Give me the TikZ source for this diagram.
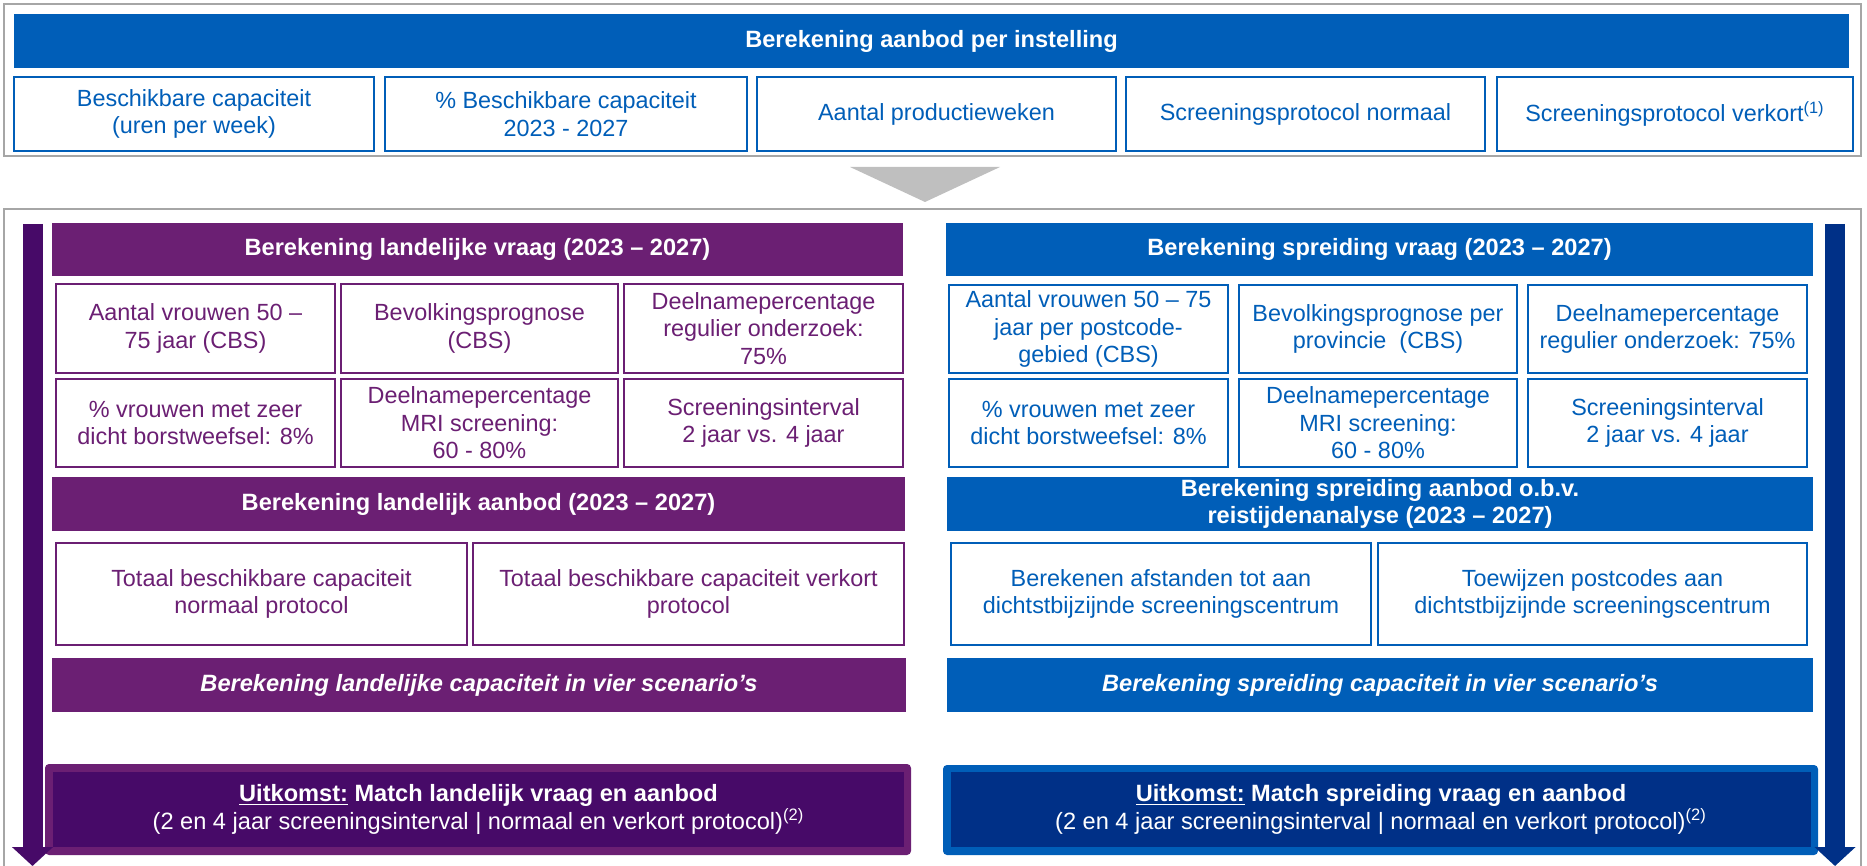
\documentclass[tikz,border=0pt]{standalone}
\usepackage{fontspec}
\setmainfont{Liberation Sans}
\usetikzlibrary{arrows.meta}

\definecolor{nzblue}{RGB}{0,94,184}
\definecolor{nzpurple}{RGB}{107,31,115}
\definecolor{nzdpurple}{RGB}{71,10,104}
\definecolor{nzdblue}{RGB}{0,48,135}
\definecolor{nzgray}{RGB}{166,166,166}
\definecolor{nzlgray}{RGB}{191,191,191}

\tikzset{
  every picture/.style={x=0.5pt,y=-0.5pt},
  span/.style n args={4}{at={({(#1+#3)/2},{(#2+#4)/2})},
    minimum width={(#3-#1)*0.5pt}, minimum height={(#4-#2)*0.5pt}},
  txt/.style={inner sep=0pt, outer sep=0pt, align=center, font=\fontsize{11.7}{13.8}\selectfont},
  bar/.style={txt, fill=#1, text=white, font=\bfseries\fontsize{11.8}{13.8}\selectfont},
  ibar/.style={bar=#1, font=\bfseries\itshape\fontsize{11.8}{13.8}\selectfont},
  cell/.style={txt, draw=#1, text=#1, fill=white, line width=1pt},
  flow/.style={line width=10pt, -{Triangle[width=20pt,length=9.5pt]}},
}

\begin{document}
\begin{tikzpicture}
  \useasboundingbox (0,0) rectangle (1867,866);

  % top frame
  \draw[nzgray, line width=1pt] (4,4) rectangle (1861,156);
  \node[bar=nzblue, span={14}{14}{1849}{68}] (aanbod) {Berekening aanbod per instelling};
  \node[cell=nzblue, span={14}{77}{374}{151}] (capac) {Beschikbare capaciteit\\(uren per week)};
  \node[cell=nzblue, span={385}{77}{747}{151}] (pcapac) {\% Beschikbare capaciteit\\2023 - 2027};
  \node[cell=nzblue, span={757}{77}{1116}{151}] (weken) {Aantal productieweken};
  \node[cell=nzblue, span={1126}{77}{1485}{151}] (protn) {Screeningsprotocol normaal};
  \node[cell=nzblue, span={1497}{77}{1853}{151}] (protv) {Screeningsprotocol verkort\textsuperscript{(1)}};

  % triangle
  \fill[nzlgray] (850,167) -- (1000,167) -- (925,202) -- cycle;

  % bottom frame
  \draw[nzgray, line width=1pt] (4,872) -- (4,209) -- (1861,209) -- (1861,872);

  % left column
  \node[bar=nzpurple, span={52}{223}{903}{276}] (lvraag) {Berekening landelijke vraag (2023 – 2027)};
  \node[cell=nzpurple, span={56}{284}{335}{373}] (lvrouw) {Aantal vrouwen 50 –\\75 jaar (CBS)};
  \node[cell=nzpurple, span={341}{284}{618}{373}] (lbevolk) {Bevolkingsprognose\\(CBS)};
  \node[cell=nzpurple, span={624}{284}{903}{373}] (ldeelreg) {Deelnamepercentage\\regulier onderzoek:\\75\%};
  \node[cell=nzpurple, span={56}{379}{335}{467}] (ldicht) {\% vrouwen met zeer\\dicht borstweefsel: 8\%};
  \node[cell=nzpurple, span={341}{379}{618}{467}] (ldeelmri) {Deelnamepercentage\\MRI screening:\\60 - 80\%};
  \node[cell=nzpurple, span={624}{379}{903}{467}] (linterval) {Screeningsinterval\\2 jaar vs. 4 jaar};
  \node[bar=nzpurple, span={52}{477}{905}{531}] (laanbod) {Berekening landelijk aanbod (2023 – 2027)};
  \node[cell=nzpurple, span={56}{543}{467}{645}] (ltotn) {Totaal beschikbare capaciteit\\normaal protocol};
  \node[cell=nzpurple, span={473}{543}{904}{645}] (ltotv) {Totaal beschikbare capaciteit verkort\\protocol};
  \node[ibar=nzpurple, span={52}{658}{906}{712}] (lcap) {Berekening landelijke capaciteit in vier scenario’s};
  \node[fill=nzpurple, rounded corners=2pt, inner sep=0pt, span={45}{764}{911}{855}] (luitframe) {};
  \node[bar=nzdpurple, span={53}{772}{904}{847}] (luit)
    {\underline{Uitkomst:} Match landelijk vraag en aanbod\\
     {\mdseries (2 en 4 jaar screeningsinterval | normaal en verkort protocol)\textsuperscript{(2)}}};

  % right column
  \node[bar=nzblue, span={946}{223}{1813}{276}] (svraag) {Berekening spreiding vraag (2023 – 2027)};
  \node[cell=nzblue, span={949}{285}{1228}{373}] (svrouw) {Aantal vrouwen 50 – 75\\jaar per postcode-\\gebied (CBS)};
  \node[cell=nzblue, span={1239}{285}{1517}{373}] (sbevolk) {Bevolkingsprognose per\\provincie~ (CBS)};
  \node[cell=nzblue, span={1528}{285}{1807}{373}] (sdeelreg) {Deelnamepercentage\\regulier onderzoek: 75\%};
  \node[cell=nzblue, span={949}{379}{1228}{467}] (sdicht) {\% vrouwen met zeer\\dicht borstweefsel: 8\%};
  \node[cell=nzblue, span={1239}{379}{1517}{467}] (sdeelmri) {Deelnamepercentage\\MRI screening:\\60 - 80\%};
  \node[cell=nzblue, span={1528}{379}{1807}{467}] (sinterval) {Screeningsinterval\\2 jaar vs. 4 jaar};
  \node[bar=nzblue, span={947}{477}{1813}{531}] (saanbod) {Berekening spreiding aanbod o.b.v.\\reistijdenanalyse (2023 – 2027)};
  \node[cell=nzblue, span={951}{543}{1371}{645}] (safst) {Berekenen afstanden tot aan\\dichtstbijzijnde screeningscentrum};
  \node[cell=nzblue, span={1378}{543}{1807}{645}] (spost) {Toewijzen postcodes aan\\dichtstbijzijnde screeningscentrum};
  \node[ibar=nzblue, span={947}{658}{1813}{712}] (scap) {Berekening spreiding capaciteit in vier scenario’s};
  \node[fill=nzblue, rounded corners=2pt, inner sep=0pt, span={943}{765}{1818}{855}] (suitframe) {};
  \node[bar=nzdblue, span={951}{772}{1811}{847}] (suit)
    {\underline{Uitkomst:} Match spreiding vraag en aanbod\\
     {\mdseries (2 en 4 jaar screeningsinterval | normaal en verkort protocol)\textsuperscript{(2)}}};

  % side arrows
  \coordinate (ltop) at (32.5,224);
  \coordinate (lbot) at (32.5,866);
  \coordinate (rtop) at (1835,224);
  \coordinate (rbot) at (1835,866);
  \draw[flow, nzdpurple] (ltop) -- (lbot);
  \draw[flow, nzdblue] (rtop) -- (rbot);
\end{tikzpicture}
\end{document}
